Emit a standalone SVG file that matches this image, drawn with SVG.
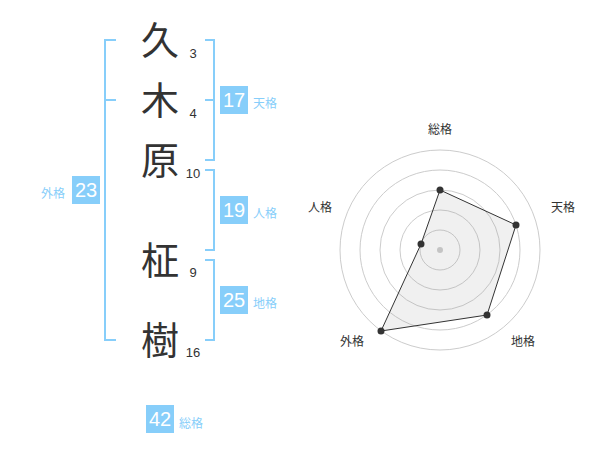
<svg xmlns="http://www.w3.org/2000/svg" width="600" height="470" viewBox="0 0 600 470">
<style>
.br{fill:none;stroke:#87cefa;stroke-width:2}
.kanji{font-family:"Noto Sans CJK JP","Noto Sans CJK SC",sans-serif;font-size:38px;fill:#333;text-anchor:middle}
.st{font-family:"Liberation Sans",Arial,sans-serif;font-size:13px;fill:#333;text-anchor:middle}
.box{fill:#87cefa}
.bn{font-family:"Liberation Sans",Arial,sans-serif;font-size:20px;fill:#fff;text-anchor:middle}
.lb{font-family:"Noto Sans CJK JP","Noto Sans CJK SC",sans-serif;font-size:12px;fill:#87cefa}
.ring{fill:none;stroke:#ccc;stroke-width:1}
.rl{font-family:"Noto Sans CJK JP","Noto Sans CJK SC",sans-serif;font-size:12px;fill:#333;text-anchor:middle}
</style>
<rect width="600" height="470" fill="#fff"/>
<g id="connectors">
<path class="br" d="M116,40 H105 V340 H116 M105,100 H116"/>
<path class="br" d="M205,40 H214 V160 H205 M205,100 H214"/>
<path class="br" d="M205,170 H214 V250 H205"/>
<path class="br" d="M205,260 H214 V340 H205"/>
</g>
<g id="char1"><text class="kanji" x="160" y="54">久</text><text class="st" x="193" y="58">3</text></g>
<g id="char2"><text class="kanji" x="160" y="114">木</text><text class="st" x="193" y="118">4</text></g>
<g id="char3"><text class="kanji" x="160" y="174">原</text><text class="st" x="193" y="178">10</text></g>
<g id="char4"><text class="kanji" x="160" y="274">柾</text><text class="st" x="193" y="277">9</text></g>
<g id="char5"><text class="kanji" x="160" y="354">樹</text><text class="st" x="193" y="357">16</text></g>
<g id="tenkaku"><rect class="box" x="220" y="86" width="28" height="28"/><text class="bn" x="234" y="107">17</text><text class="lb" x="253" y="108">天格</text></g>
<g id="jinkaku"><rect class="box" x="220" y="196" width="28" height="28"/><text class="bn" x="234" y="217">19</text><text class="lb" x="253" y="218">人格</text></g>
<g id="chikaku"><rect class="box" x="220" y="286" width="28" height="28"/><text class="bn" x="234" y="307">25</text><text class="lb" x="253" y="308">地格</text></g>
<g id="gaikaku"><rect class="box" x="72" y="176" width="28" height="28"/><text class="bn" x="86" y="197">23</text><text class="lb" x="41" y="198">外格</text></g>
<g id="soukaku"><rect class="box" x="146" y="405" width="28" height="28"/><text class="bn" x="160" y="426">42</text><text class="lb" x="179" y="428">総格</text></g>
<g id="radar">
<circle class="ring" cx="440" cy="250" r="20"/>
<circle class="ring" cx="440" cy="250" r="40"/>
<circle class="ring" cx="440" cy="250" r="60"/>
<circle class="ring" cx="440" cy="250" r="80"/>
<circle class="ring" cx="440" cy="250" r="100"/>
<circle cx="440" cy="250" r="3" fill="#ccc"/>
<polygon points="440,190 516,225 487,315 381,331 421,244" fill="#999" fill-opacity="0.15" stroke="#333" stroke-width="1"/>
<g fill="#333">
<circle cx="440" cy="190" r="3.5"/>
<circle cx="516" cy="225" r="3.5"/>
<circle cx="487" cy="315" r="3.5"/>
<circle cx="381" cy="331" r="3.5"/>
<circle cx="421" cy="244" r="3.5"/>
</g>
<text class="rl" x="440" y="134">総格</text>
<text class="rl" x="563" y="212">天格</text>
<text class="rl" x="523" y="346">地格</text>
<text class="rl" x="352" y="346">外格</text>
<text class="rl" x="320" y="212">人格</text>
</g>
</svg>
